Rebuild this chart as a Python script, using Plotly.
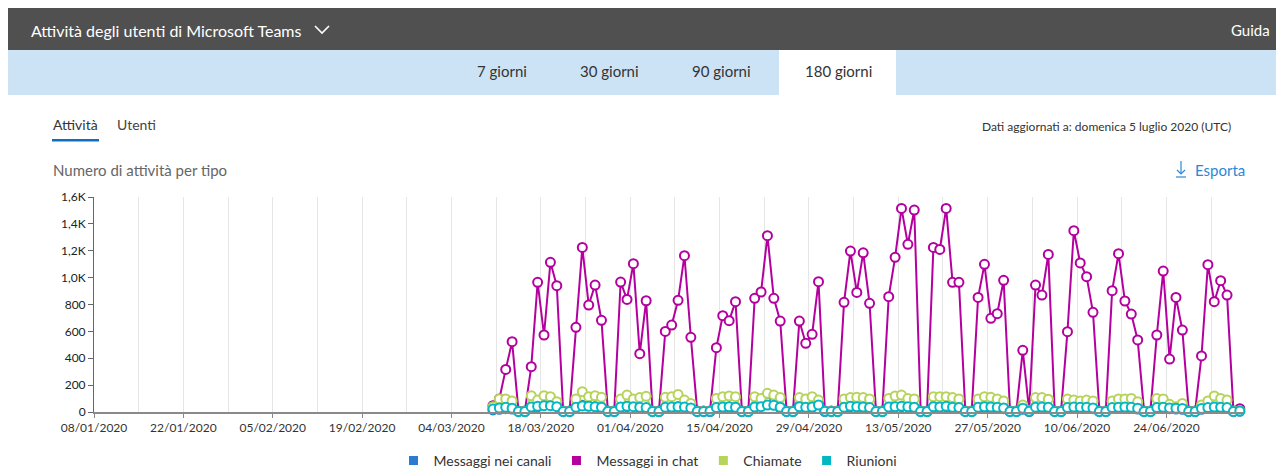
import pandas as pd
import plotly.graph_objects as go

# ---------------- data ----------------
start_date = "2020-03-10"
end_date = "2020-07-05"
dates = pd.date_range(start_date, end_date, freq="D")

chat = [47, 97, 317, 523, 8, 8, 337, 965, 573, 1114, 940, 8, 8,
        630, 1225, 796, 945, 682, 8, 8,
        967, 838, 1104, 434, 828, 8, 8,
        600, 647, 831, 1163, 556, 8, 8,
        8, 479, 717, 680, 821, 8, 8,
        846, 893, 1312, 846, 677, 8, 8,
        677, 511, 578, 970, 8, 8, 8,
        816, 1198, 890, 1185, 809, 8, 8,
        858, 1151, 1515, 1248, 1503, 8, 8,
        1225, 1210, 1515, 965, 965, 8, 8,
        853, 1099, 697, 732, 980, 8, 8,
        459, 8, 945, 870, 1173, 8, 8,
        598, 1349, 1109, 1007, 742, 8, 8,
        903, 1178, 826, 729, 536, 8, 8,
        573, 1049, 394, 853, 610, 8, 8,
        417, 1096, 821, 977, 870, 8, 25]

calls = [40, 97, 97, 82, 6, 5, 121, 89, 121, 114, 77, 6, 5,
         97, 151, 114, 121, 109, 6, 5,
         97, 126, 97, 107, 117, 6, 5,
         109, 114, 131, 89, 64, 6, 5,
         8, 101, 114, 119, 114, 6, 5,
         114, 101, 139, 126, 107, 6, 5,
         107, 97, 114, 89, 8, 6, 5,
         97, 107, 109, 107, 97, 6, 5,
         101, 119, 126, 101, 97, 6, 5,
         114, 114, 114, 107, 97, 6, 5,
         97, 114, 109, 97, 82, 6, 5,
         52, 10, 107, 107, 95, 6, 5,
         97, 89, 82, 89, 82, 6, 5,
         82, 97, 97, 101, 77, 6, 5,
         101, 97, 57, 40, 64, 6, 5,
         52, 82, 119, 101, 89, 6, 10]

meetings = [22, 30, 35, 28, 4, 3, 38, 42, 47, 47, 40, 4, 3,
            35, 45, 42, 40, 36, 4, 3,
            38, 42, 40, 36, 33, 4, 3,
            35, 38, 40, 37, 30, 4, 3,
            5, 33, 38, 40, 36, 4, 3,
            38, 40, 52, 50, 36, 4, 3,
            40, 35, 38, 52, 5, 4, 3,
            36, 42, 40, 38, 33, 4, 3,
            38, 40, 42, 40, 36, 4, 3,
            40, 38, 42, 36, 33, 4, 3,
            36, 40, 38, 35, 30, 4, 3,
            28, 5, 36, 38, 35, 4, 3,
            33, 38, 36, 35, 30, 4, 3,
            33, 36, 38, 35, 28, 4, 3,
            33, 36, 30, 28, 26, 4, 3,
            26, 33, 38, 36, 33, 4, 8]

channels = [15, 20, 25, 22, 2, 2, 30, 40, 60, 95, 55, 2, 2,
            35, 50, 45, 40, 30, 2, 2,
            35, 40, 45, 30, 28, 2, 2,
            30, 35, 40, 38, 25, 2, 2,
            3, 28, 35, 38, 32, 2, 2,
            35, 45, 75, 70, 30, 2, 2,
            45, 30, 35, 60, 3, 2, 2,
            30, 40, 38, 35, 30, 2, 2,
            35, 38, 40, 38, 30, 2, 2,
            38, 35, 40, 30, 28, 2, 2,
            30, 35, 33, 30, 25, 2, 2,
            20, 3, 30, 33, 30, 2, 2,
            28, 33, 30, 30, 25, 2, 2,
            28, 30, 33, 30, 22, 2, 2,
            28, 30, 25, 22, 20, 2, 2,
            20, 28, 33, 30, 28, 2, 5]

series_names = ["Messaggi nei canali", "Messaggi in chat", "Chiamate", "Riunioni"]
series_values = [channels, chat, calls, meetings]
series_colors = ["#2b7bd1", "#b4009e", "#b6d35b", "#00b7c3"]

y_tick_vals = [0, 200, 400, 600, 800, 1000, 1200, 1400, 1600]
y_tick_text = ["0", "200", "400", "600", "800", "1,0K", "1,2K", "1,4K", "1,6K"]

tabs = ["7 giorni", "30 giorni", "90 giorni", "180 giorni"]

# ---------------- layout helpers ----------------
W, H = 1284, 470
L, R, T, B = 94, 1243, 197, 412          # plot area in window pixels
FONT = "Segoe UI, Lato, Open Sans, sans-serif"


def px(x):
    return (x - L) / (R - L)


def py(y):
    return (B - y) / (B - T)


x_plot = dates + pd.Timedelta(hours=12)

fig = go.Figure()
for name, vals, col in zip(series_names, series_values, series_colors):
    fig.add_trace(go.Scatter(
        x=x_plot, y=vals, name=name, mode="lines+markers",
        line=dict(color=col, width=2),
        marker=dict(symbol="circle", size=9, color="white",
                    line=dict(color=col, width=2)),
        cliponaxis=False, showlegend=False,
        hovertemplate="%{x|%d/%m/%Y}: %{y}<extra>" + name + "</extra>",
    ))
# legend entries with square swatches
for name, col in zip(series_names, series_colors):
    fig.add_trace(go.Scatter(
        x=[None], y=[None], name=name, mode="markers",
        marker=dict(symbol="square", size=9, color=col),
        showlegend=True,
    ))

shapes = []
annotations = []

# header bar
shapes.append(dict(type="rect", xref="paper", yref="paper",
                   x0=px(8), x1=px(1276), y0=py(8), y1=py(50),
                   fillcolor="#505050", line=dict(width=0), layer="below"))
# tabs bar
shapes.append(dict(type="rect", xref="paper", yref="paper",
                   x0=px(8), x1=px(1276), y0=py(50), y1=py(95),
                   fillcolor="#cce3f5", line=dict(width=0), layer="below"))
shapes.append(dict(type="rect", xref="paper", yref="paper",
                   x0=px(779), x1=px(896), y0=py(50), y1=py(95),
                   fillcolor="white", line=dict(width=0), layer="below"))
# chevron
shapes.append(dict(type="path", xref="paper", yref="paper",
                   path=f"M {px(315)} {py(26)} L {px(322)} {py(33)} L {px(329)} {py(26)}",
                   line=dict(color="white", width=1.6)))
# active sub-tab underline
shapes.append(dict(type="rect", xref="paper", yref="paper",
                   x0=px(52), x1=px(99), y0=py(139), y1=py(141.5),
                   fillcolor="#106ebe", line=dict(width=0)))
# export icon
for path in [f"M {px(1181)} {py(161)} L {px(1181)} {py(174)}",
             f"M {px(1177)} {py(170)} L {px(1181)} {py(174)} L {px(1185)} {py(170)}",
             f"M {px(1176)} {py(177)} L {px(1186)} {py(177)}"]:
    shapes.append(dict(type="path", xref="paper", yref="paper", path=path,
                       line=dict(color="#2b88d8", width=1.2)))


def text(t, x, y, size, color, xanchor="left"):
    annotations.append(dict(text=t, x=px(x), y=py(y), xref="paper", yref="paper",
                            xanchor=xanchor, yanchor="middle", showarrow=False,
                            font=dict(family=FONT, size=size, color=color)))


text("Attività degli utenti di Microsoft Teams", 29, 30, 16, "white")
text("Guida", 1272, 30, 15, "white", "right")
for t, cx in zip(tabs, [502, 609, 721, 838]):
    text(t, cx, 71, 15, "#333333", "center")
text("Attività", 51, 124, 14, "#333333")
text("Utenti", 115, 124, 14, "#444444")
text("Dati aggiornati a: domenica 5 luglio 2020 (UTC)", 1233, 126, 12, "#333333", "right")
text("Numero di attività per tipo", 51, 170, 15, "#666666")
text("Esporta", 1193, 170, 15, "#2b88d8")

fig.update_layout(
    width=W, height=H, autosize=False,
    margin=dict(l=L, r=W - R, t=T, b=H - B, pad=0, autoexpand=False),
    paper_bgcolor="white", plot_bgcolor="white",
    font=dict(family=FONT, size=12, color="#333333"),
    shapes=shapes, annotations=annotations,
    showlegend=True,
    legend=dict(orientation="h", x=px(648), xanchor="center", y=py(461), yanchor="middle",
                font=dict(family=FONT, size=14, color="#333333"),
                itemwidth=30, tracegroupgap=0, bgcolor="rgba(0,0,0,0)"),
    xaxis=dict(
        type="date",
        range=["2020-01-08", "2020-07-06"],
        tick0="2020-01-08", dtick=14 * 86400000,
        tickformat="%d/%m/%Y",
        ticks="outside", ticklen=4, tickcolor="#888888",
        tickfont=dict(family=FONT, size=12, color="#333333"),
        showgrid=True, gridcolor="#e6e6e6", gridwidth=1,
        minor=dict(dtick=7 * 86400000, tick0="2020-01-08", showgrid=True,
                   gridcolor="#e6e6e6", gridwidth=1),
        showline=True, linecolor="#8a8a8a", linewidth=1.5,
        zeroline=False, fixedrange=True, automargin=False,
    ),
    yaxis=dict(
        range=[0, 1600],
        tickvals=y_tick_vals, ticktext=y_tick_text,
        ticks="outside", ticklen=5, tickcolor="#666666",
        tickfont=dict(family=FONT, size=12, color="#222222"),
        showgrid=False, zeroline=False,
        showline=True, linecolor="#666666", linewidth=1,
        fixedrange=True, automargin=False,
    ),
)

fig.write_html("out.html",
               config={"displayModeBar": False},
               post_script="document.body.style.margin='0px';document.body.style.overflow='hidden';")
